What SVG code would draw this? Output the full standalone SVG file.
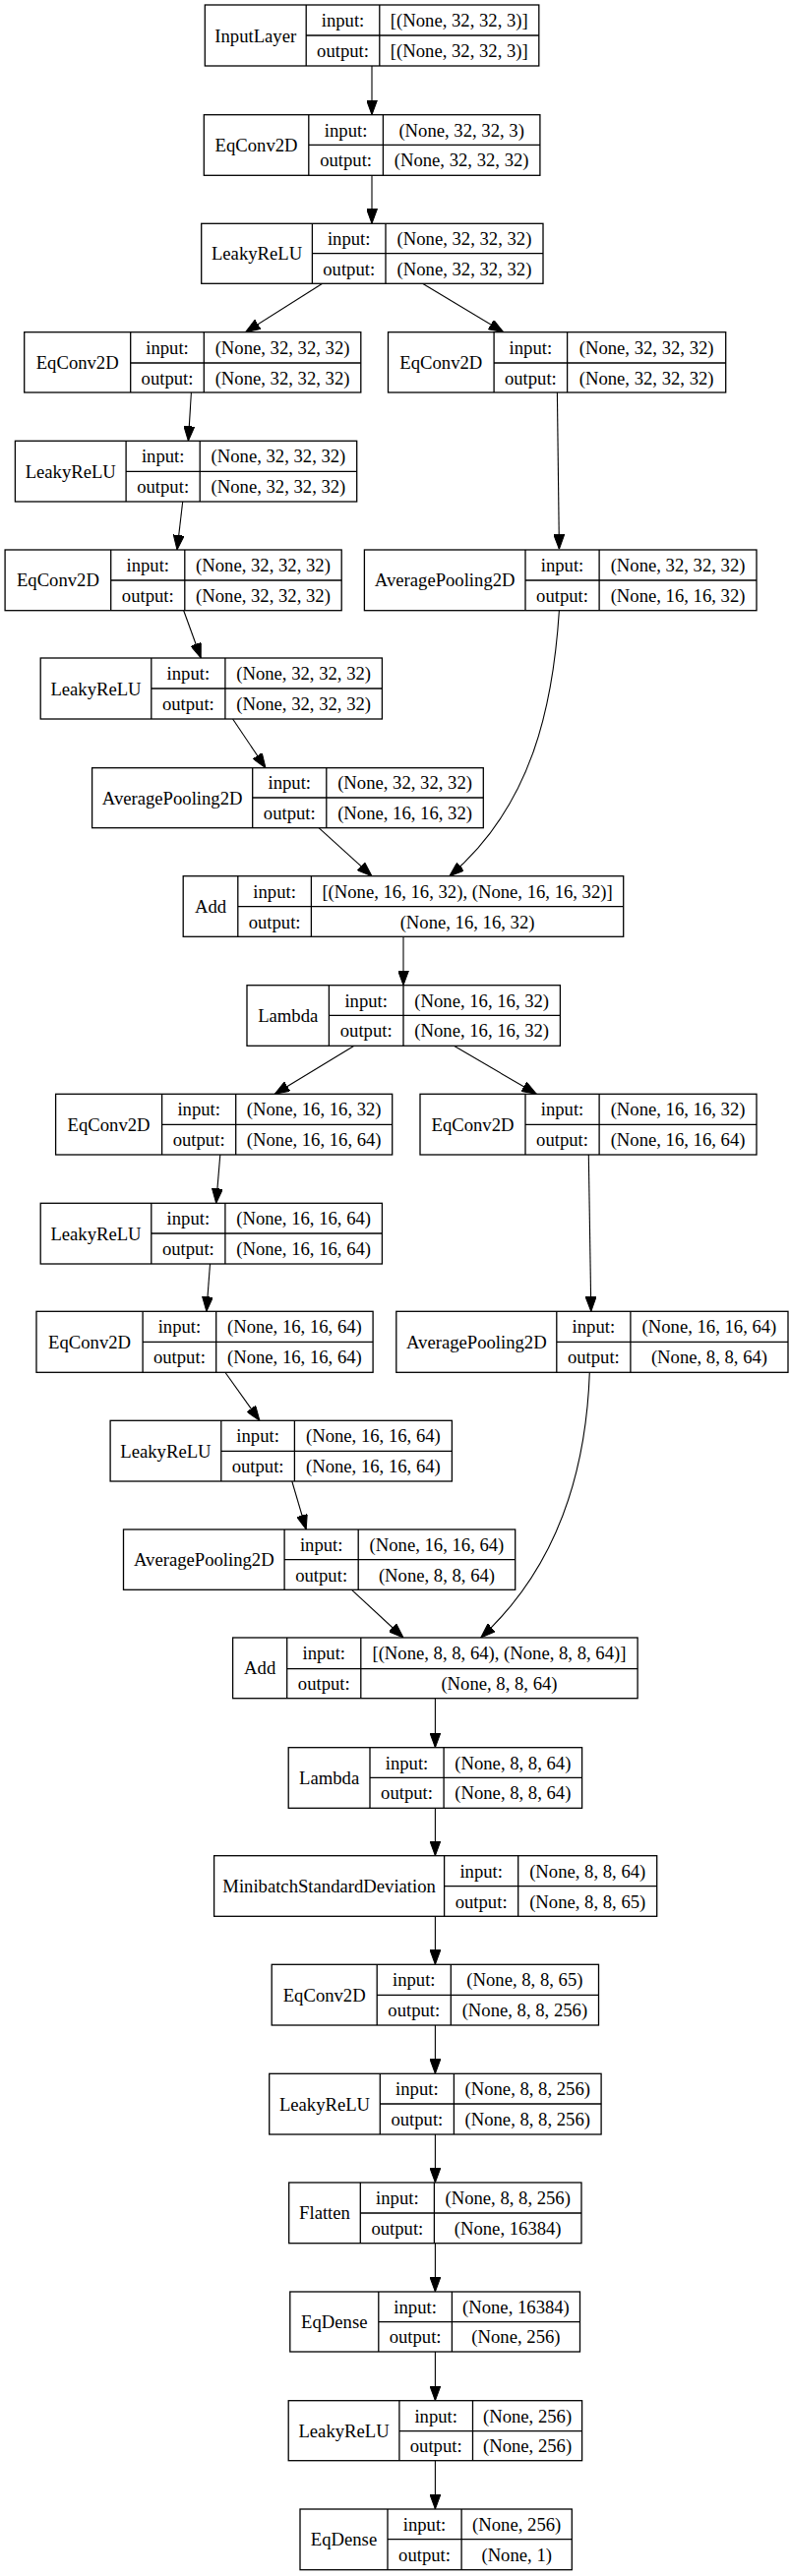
<svg xmlns="http://www.w3.org/2000/svg" width="803" height="2619" viewBox="0 0 803 2619">
<defs>
<style>
.n rect{fill:#fff;stroke:#000;stroke-width:1.3}
.n path{fill:none;stroke:#000;stroke-width:1.3}
text{font-family:"Liberation Serif","Times New Roman",serif;font-size:18.67px;text-anchor:middle;fill:#000}
#edges path{fill:none;stroke:#000;stroke-width:1.1;marker-end:url(#ah)}
</style>
<marker id="ah" markerWidth="15" markerHeight="11" refX="15" refY="5.5" orient="auto" markerUnits="userSpaceOnUse"><path d="M0,0 L15,5.5 L0,11 z" fill="#000" stroke="#000" stroke-width="1"/></marker>
</defs>
<rect x="0" y="0" width="803" height="2619" fill="#fff"/>
<g id="edges">
<path d="M378,67 L378,116.7"/>
<path d="M378,178.3 L378,227.3"/>
<path d="M327.7,288.3 L249.5,337.7"/>
<path d="M429.5,288.3 L511.8,337.7"/>
<path d="M194.4,399 L191.4,448.3"/>
<path d="M566.4,399 L568.4,558.3"/>
<path d="M185.7,510 L180,559"/>
<path d="M186.7,620.7 L204.2,669"/>
<path d="M236.6,731 L270,780.7"/>
<path d="M324,841.7 L378,890.7"/>
<path d="M568.4,620.7 C562,720 540,820 456.8,890.7"/>
<path d="M410,952.3 L410,1001.7"/>
<path d="M360,1063.3 L279.3,1112.3"/>
<path d="M461.4,1063.3 L545.3,1112.3"/>
<path d="M223.8,1174 L219.7,1223.3"/>
<path d="M598.3,1174 L600.8,1333.3"/>
<path d="M213.5,1285 L209.9,1333.3"/>
<path d="M228.9,1395.3 L263.9,1444.3"/>
<path d="M296.8,1506 L311.2,1555"/>
<path d="M357.5,1616.3 L410,1665"/>
<path d="M599.3,1395.3 C596,1490 570,1590 488.7,1665"/>
<path d="M442.4,1726.7 L442.4,1776.7"/>
<path d="M442.4,1838.3 L442.4,1886.7"/>
<path d="M442.4,1948.3 L442.4,1997.3"/>
<path d="M442.4,2059 L442.4,2108.3"/>
<path d="M442.4,2170 L442.4,2219"/>
<path d="M442.4,2280.7 L442.4,2330"/>
<path d="M442.4,2391 L442.4,2440.7"/>
<path d="M442.4,2501.7 L442.4,2551"/>
</g>
<g id="n1" class="n"><rect x="208.3" y="5" width="339.5" height="62"/><path d="M311.2,5V67M385.8,5V67M311.2,36H547.8"/>
<text x="259.75" y="42.5">InputLayer</text><text x="348.5" y="27">input:</text><text x="348.5" y="58">output:</text><text x="466.8" y="27">[(None, 32, 32, 3)]</text><text x="466.8" y="58">[(None, 32, 32, 3)]</text></g>
<g id="n2" class="n"><rect x="207.3" y="116.7" width="341.6" height="61.6"/><path d="M313.8,116.7V178.3M389.4,116.7V178.3M313.8,147.3H548.9"/>
<text x="260.55" y="154">EqConv2D</text><text x="351.6" y="138.5">input:</text><text x="351.6" y="169.3">output:</text><text x="469.15" y="138.5">(None, 32, 32, 3)</text><text x="469.15" y="169.3">(None, 32, 32, 32)</text></g>
<g id="n3" class="n"><rect x="204.7" y="227.3" width="347.3" height="61"/><path d="M317.4,227.3V288.3M392,227.3V288.3M317.4,257.7H552"/>
<text x="261.05" y="264.3">LeakyReLU</text><text x="354.7" y="249">input:</text><text x="354.7" y="279.5">output:</text><text x="472" y="249">(None, 32, 32, 32)</text><text x="472" y="279.5">(None, 32, 32, 32)</text></g>
<g id="n4" class="n"><rect x="24.7" y="337.7" width="342.1" height="61.3"/><path d="M132.7,337.7V399M207.3,337.7V399M132.7,369H366.8"/>
<text x="78.7" y="374.85">EqConv2D</text><text x="170" y="359.85">input:</text><text x="170" y="390.5">output:</text><text x="287.05" y="359.85">(None, 32, 32, 32)</text><text x="287.05" y="390.5">(None, 32, 32, 32)</text></g>
<g id="n5" class="n"><rect x="394.5" y="337.7" width="343.2" height="61.3"/><path d="M502.1,337.7V399M576.6,337.7V399M502.1,369H737.7"/>
<text x="448.3" y="374.85">EqConv2D</text><text x="539.35" y="359.85">input:</text><text x="539.35" y="390.5">output:</text><text x="657.15" y="359.85">(None, 32, 32, 32)</text><text x="657.15" y="390.5">(None, 32, 32, 32)</text></g>
<g id="n6" class="n"><rect x="15.4" y="448.3" width="347.3" height="61.7"/><path d="M128.1,448.3V510M203.2,448.3V510M128.1,479.3H362.7"/>
<text x="71.75" y="485.65">LeakyReLU</text><text x="165.65" y="470.3">input:</text><text x="165.65" y="501.15">output:</text><text x="282.95" y="470.3">(None, 32, 32, 32)</text><text x="282.95" y="501.15">(None, 32, 32, 32)</text></g>
<g id="n7" class="n"><rect x="5.1" y="559" width="342.1" height="61.7"/><path d="M112.7,559V620.7M187.8,559V620.7M112.7,590H347.2"/>
<text x="58.9" y="596.35">EqConv2D</text><text x="150.25" y="581">input:</text><text x="150.25" y="611.85">output:</text><text x="267.5" y="581">(None, 32, 32, 32)</text><text x="267.5" y="611.85">(None, 32, 32, 32)</text></g>
<g id="n8" class="n"><rect x="370.4" y="559" width="398.6" height="61.7"/><path d="M534,559V620.7M609.1,559V620.7M534,590H769"/>
<text x="452.2" y="596.35">AveragePooling2D</text><text x="571.55" y="581">input:</text><text x="571.55" y="611.85">output:</text><text x="689.05" y="581">(None, 32, 32, 32)</text><text x="689.05" y="611.85">(None, 16, 16, 32)</text></g>
<g id="n9" class="n"><rect x="41.2" y="669" width="347.2" height="62"/><path d="M153.8,669V731M228.9,669V731M153.8,700H388.4"/>
<text x="97.5" y="706.5">LeakyReLU</text><text x="191.35" y="691">input:</text><text x="191.35" y="722">output:</text><text x="308.65" y="691">(None, 32, 32, 32)</text><text x="308.65" y="722">(None, 32, 32, 32)</text></g>
<g id="n10" class="n"><rect x="93.6" y="780.7" width="397.7" height="61"/><path d="M256.7,780.7V841.7M331.8,780.7V841.7M256.7,811H491.3"/>
<text x="175.15" y="817.7">AveragePooling2D</text><text x="294.25" y="802.35">input:</text><text x="294.25" y="832.85">output:</text><text x="411.55" y="802.35">(None, 32, 32, 32)</text><text x="411.55" y="832.85">(None, 16, 16, 32)</text></g>
<g id="n11" class="n"><rect x="186.2" y="890.7" width="447.5" height="61.6"/><path d="M241.8,890.7V952.3M316.4,890.7V952.3M241.8,921.7H633.7"/>
<text x="214" y="928">Add</text><text x="279.1" y="912.7">input:</text><text x="279.1" y="943.5">output:</text><text x="475.05" y="912.7">[(None, 16, 16, 32), (None, 16, 16, 32)]</text><text x="475.05" y="943.5">(None, 16, 16, 32)</text></g>
<g id="n12" class="n"><rect x="251" y="1001.7" width="318.4" height="61.6"/><path d="M334.4,1001.7V1063.3M410,1001.7V1063.3M334.4,1032.3H569.4"/>
<text x="292.7" y="1039">Lambda</text><text x="372.2" y="1023.5">input:</text><text x="372.2" y="1054.3">output:</text><text x="489.7" y="1023.5">(None, 16, 16, 32)</text><text x="489.7" y="1054.3">(None, 16, 16, 32)</text></g>
<g id="n13" class="n"><rect x="56.6" y="1112.3" width="342.1" height="61.7"/><path d="M164.6,1112.3V1174M239.7,1112.3V1174M164.6,1143.3H398.7"/>
<text x="110.6" y="1149.65">EqConv2D</text><text x="202.15" y="1134.3">input:</text><text x="202.15" y="1165.15">output:</text><text x="319.2" y="1134.3">(None, 16, 16, 32)</text><text x="319.2" y="1165.15">(None, 16, 16, 64)</text></g>
<g id="n14" class="n"><rect x="427" y="1112.3" width="342" height="61.7"/><path d="M534,1112.3V1174M609.1,1112.3V1174M534,1143.3H769"/>
<text x="480.5" y="1149.65">EqConv2D</text><text x="571.55" y="1134.3">input:</text><text x="571.55" y="1165.15">output:</text><text x="689.05" y="1134.3">(None, 16, 16, 32)</text><text x="689.05" y="1165.15">(None, 16, 16, 64)</text></g>
<g id="n15" class="n"><rect x="41.2" y="1223.3" width="347.2" height="61.7"/><path d="M153.8,1223.3V1285M228.9,1223.3V1285M153.8,1254H388.4"/>
<text x="97.5" y="1260.65">LeakyReLU</text><text x="191.35" y="1245.15">input:</text><text x="191.35" y="1276">output:</text><text x="308.65" y="1245.15">(None, 16, 16, 64)</text><text x="308.65" y="1276">(None, 16, 16, 64)</text></g>
<g id="n16" class="n"><rect x="37" y="1333.3" width="342.1" height="62"/><path d="M145.1,1333.3V1395.3M219.7,1333.3V1395.3M145.1,1364.3H379.1"/>
<text x="91.05" y="1370.8">EqConv2D</text><text x="182.4" y="1355.3">input:</text><text x="182.4" y="1386.3">output:</text><text x="299.4" y="1355.3">(None, 16, 16, 64)</text><text x="299.4" y="1386.3">(None, 16, 16, 64)</text></g>
<g id="n17" class="n"><rect x="402.8" y="1333.3" width="398.2" height="62"/><path d="M565.8,1333.3V1395.3M640.9,1333.3V1395.3M565.8,1364.3H801"/>
<text x="484.3" y="1370.8">AveragePooling2D</text><text x="603.35" y="1355.3">input:</text><text x="603.35" y="1386.3">output:</text><text x="720.95" y="1355.3">(None, 16, 16, 64)</text><text x="720.95" y="1386.3">(None, 8, 8, 64)</text></g>
<g id="n18" class="n"><rect x="112.1" y="1444.3" width="347.3" height="61.7"/><path d="M224.8,1444.3V1506M299.4,1444.3V1506M224.8,1475.3H459.4"/>
<text x="168.45" y="1481.65">LeakyReLU</text><text x="262.1" y="1466.3">input:</text><text x="262.1" y="1497.15">output:</text><text x="379.4" y="1466.3">(None, 16, 16, 64)</text><text x="379.4" y="1497.15">(None, 16, 16, 64)</text></g>
<g id="n19" class="n"><rect x="125.5" y="1555" width="398.2" height="61.3"/><path d="M289.1,1555V1616.3M364.2,1555V1616.3M289.1,1585.7H523.7"/>
<text x="207.3" y="1592.15">AveragePooling2D</text><text x="326.65" y="1576.85">input:</text><text x="326.65" y="1607.5">output:</text><text x="443.95" y="1576.85">(None, 16, 16, 64)</text><text x="443.95" y="1607.5">(None, 8, 8, 64)</text></g>
<g id="n20" class="n"><rect x="236.6" y="1665" width="411.5" height="61.7"/><path d="M291.7,1665V1726.7M366.8,1665V1726.7M291.7,1696.7H648.1"/>
<text x="264.15" y="1702.35">Add</text><text x="329.25" y="1687.35">input:</text><text x="329.25" y="1718.2">output:</text><text x="507.45" y="1687.35">[(None, 8, 8, 64), (None, 8, 8, 64)]</text><text x="507.45" y="1718.2">(None, 8, 8, 64)</text></g>
<g id="n21" class="n"><rect x="293.2" y="1776.7" width="298.4" height="61.6"/><path d="M376,1776.7V1838.3M451.1,1776.7V1838.3M376,1807.3H591.6"/>
<text x="334.6" y="1814">Lambda</text><text x="413.55" y="1798.5">input:</text><text x="413.55" y="1829.3">output:</text><text x="521.35" y="1798.5">(None, 8, 8, 64)</text><text x="521.35" y="1829.3">(None, 8, 8, 64)</text></g>
<g id="n22" class="n"><rect x="217.6" y="1886.7" width="450.1" height="61.6"/><path d="M451.6,1886.7V1948.3M526.7,1886.7V1948.3M451.6,1917.7H667.7"/>
<text x="334.6" y="1924">MinibatchStandardDeviation</text><text x="489.15" y="1908.7">input:</text><text x="489.15" y="1939.5">output:</text><text x="597.2" y="1908.7">(None, 8, 8, 64)</text><text x="597.2" y="1939.5">(None, 8, 8, 65)</text></g>
<g id="n23" class="n"><rect x="276.2" y="1997.3" width="332.3" height="61.7"/><path d="M383.2,1997.3V2059M458.3,1997.3V2059M383.2,2028.3H608.5"/>
<text x="329.7" y="2034.65">EqConv2D</text><text x="420.75" y="2019.3">input:</text><text x="420.75" y="2050.15">output:</text><text x="533.4" y="2019.3">(None, 8, 8, 65)</text><text x="533.4" y="2050.15">(None, 8, 8, 256)</text></g>
<g id="n24" class="n"><rect x="273.7" y="2108.3" width="337.4" height="61.7"/><path d="M386.3,2108.3V2170M461.4,2108.3V2170M386.3,2139H611.1"/>
<text x="330" y="2145.65">LeakyReLU</text><text x="423.85" y="2130.15">input:</text><text x="423.85" y="2161">output:</text><text x="536.25" y="2130.15">(None, 8, 8, 256)</text><text x="536.25" y="2161">(None, 8, 8, 256)</text></g>
<g id="n25" class="n"><rect x="293.7" y="2219" width="297.3" height="61.7"/><path d="M366.3,2219V2280.7M441.4,2219V2280.7M366.3,2250H591"/>
<text x="330" y="2256.35">Flatten</text><text x="403.85" y="2241">input:</text><text x="403.85" y="2271.85">output:</text><text x="516.2" y="2241">(None, 8, 8, 256)</text><text x="516.2" y="2271.85">(None, 16384)</text></g>
<g id="n26" class="n"><rect x="294.8" y="2330" width="294.7" height="61"/><path d="M384.8,2330V2391M459.4,2330V2391M384.8,2360.7H589.5"/>
<text x="339.8" y="2367">EqDense</text><text x="422.1" y="2351.85">input:</text><text x="422.1" y="2382.35">output:</text><text x="524.45" y="2351.85">(None, 16384)</text><text x="524.45" y="2382.35">(None, 256)</text></g>
<g id="n27" class="n"><rect x="293.2" y="2440.7" width="298.4" height="61"/><path d="M405.9,2440.7V2501.7M480.5,2440.7V2501.7M405.9,2471.7H591.6"/>
<text x="349.55" y="2477.7">LeakyReLU</text><text x="443.2" y="2462.7">input:</text><text x="443.2" y="2493.2">output:</text><text x="536.05" y="2462.7">(None, 256)</text><text x="536.05" y="2493.2">(None, 256)</text></g>
<g id="n28" class="n"><rect x="305" y="2551" width="276.3" height="61.7"/><path d="M394,2551V2612.7M469.1,2551V2612.7M394,2581.7H581.3"/>
<text x="349.5" y="2588.35">EqDense</text><text x="431.55" y="2572.85">input:</text><text x="431.55" y="2603.7">output:</text><text x="525.2" y="2572.85">(None, 256)</text><text x="525.2" y="2603.7">(None, 1)</text></g>
</svg>
